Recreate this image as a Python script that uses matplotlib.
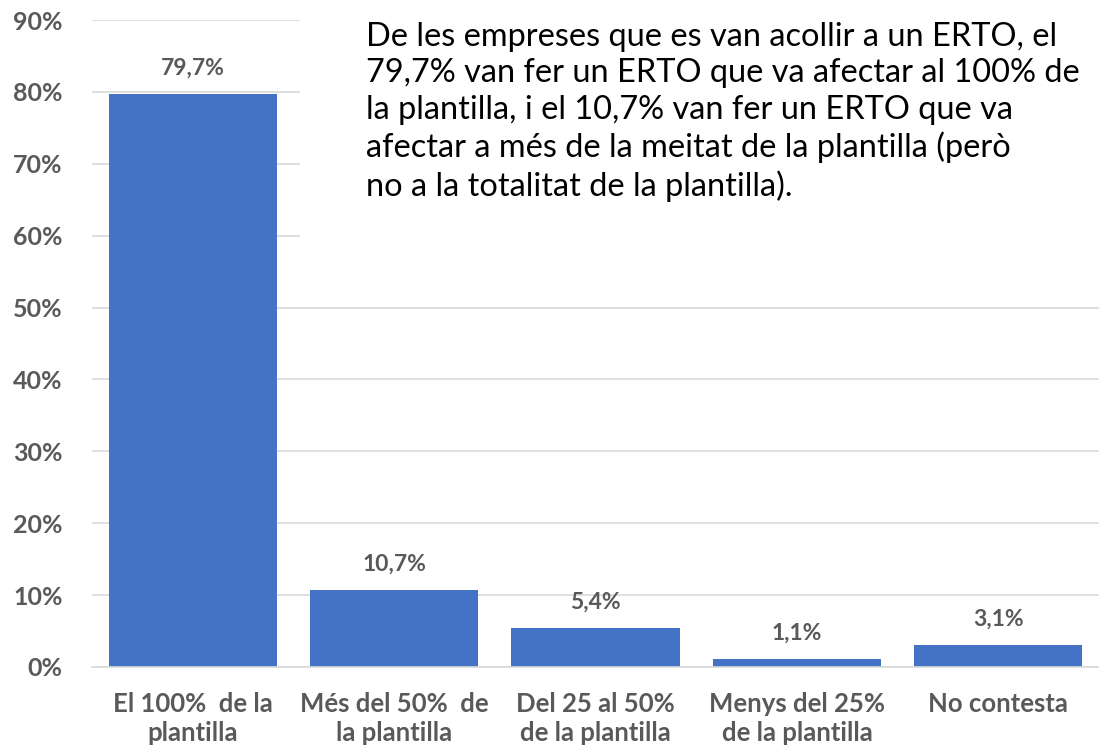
import matplotlib.pyplot as plt
import numpy as np

# Data
categories = ["El 100%  de la\nplantilla", "Més del 50%  de\nla plantilla",
              "Del 25 al 50%\nde la plantilla", "Menys del 25%\nde la plantilla",
              "No contesta"]
values = [79.7, 10.7, 5.4, 1.1, 3.1]
labels = ["79,7%", "10,7%", "5,4%", "1,1%", "3,1%"]
yticks = [0, 10, 20, 30, 40, 50, 60, 70, 80, 90]

note = ("De les empreses que es van acollir a un ERTO, el\n"
        "79,7% van fer un ERTO que va afectar al 100% de\n"
        "la plantilla, i el 10,7% van fer un ERTO que va\n"
        "afectar a més de la meitat de la plantilla (però\n"
        "no a la totalitat de la plantilla).")

plt.rcParams["font.family"] = ["Lato", "DejaVu Sans"]
grey = "#595959"

fig = plt.figure(figsize=(10.99, 7.54), dpi=100)
ax = fig.add_axes([92 / 1099, 1 - 667 / 754, 1007 / 1099, 647 / 754])

x = np.arange(len(values))
ax.bar(x, values, width=0.835, color="#4472C4", zorder=2)

for xi, v, lab in zip(x, values, labels):
    ax.annotate(lab, (xi, v), textcoords="offset points", xytext=(0, 11),
                ha="center", va="bottom", fontsize=16.5, fontweight="bold", color=grey)

ax.set_xlim(-0.5, len(values) - 0.5)
ax.set_ylim(0, 90)
ax.set_yticks(yticks)
ax.set_yticklabels([f"{t}%" for t in yticks], fontsize=18, fontweight="bold", color=grey)
ax.set_xticks(x)
ax.set_xticklabels(categories, fontsize=18.5, fontweight="bold", color=grey, linespacing=1.25)
ax.tick_params(axis="both", length=0)
ax.tick_params(axis="y", pad=21)
ax.tick_params(axis="x", pad=18)
ax.grid(axis="y", color="#D9D9D9", lw=1.2, zorder=0)
for s in ["top", "right", "left"]:
    ax.spines[s].set_visible(False)
ax.spines["bottom"].set_color("#D9D9D9")
ax.spines["bottom"].set_linewidth(1.2)

# white box covering gridlines behind the note
fig.patches.append(plt.Rectangle((300 / 1099, 1 - 270 / 754), 799 / 1099, 270 / 754,
                                 transform=fig.transFigure, color="white", zorder=3))
fig.text(366 / 1099, 1 - 22 / 754, note, ha="left", va="top", fontsize=23.4,
         color="black", linespacing=1.27, zorder=4)

fig.savefig("out.png", dpi=100)
